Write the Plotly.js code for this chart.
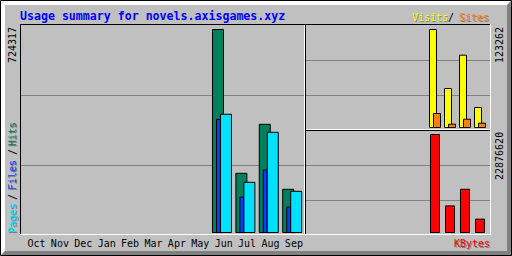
<!DOCTYPE html>
<html><head><meta charset="utf-8">
<script src="https://cdn.plot.ly/plotly-3.0.1.min.js"></script>
<style>html,body{margin:0;padding:0;background:#c0c0c0;overflow:hidden}</style>
</head><body><div id="chart" style="width:512px;height:256px"></div>
<script>
// ---- data ----
const months = ['Oct','Nov','Dec','Jan','Feb','Mar','Apr','May','Jun','Jul','Aug','Sep'];
const hits   = [0,0,0,0,0,0,0,0,724317,211200,386000,154100];
const files  = [0,0,0,0,0,0,0,0,403000,126700,223000,91000];
const pages  = [0,0,0,0,0,0,0,0,421800,179100,357500,147000];
const visits = [0,0,0,0,0,0,0,0,123262,49050,90940,25160];
const sites  = [0,0,0,0,0,0,0,0,17610,4150,10440,5410];
const kbytes = [0,0,0,0,0,0,0,0,22876620,6210000,10090000,3120000];
const titleText = 'Usage summary for novels.axisgames.xyz';

// ---- helpers ----
const W=512,H=256;
const px=x=>x/W, py=y=>1-y/H;
const DK='#808080', FONT='DejaVu Sans Mono';
const nz=a=>a.map(v=>v===0?null:v);
const maxH=Math.max(...hits), maxV=Math.max(...visits), maxK=Math.max(...kbytes);

function bar(y, color, off, wid, xa, ya){
  return {type:'bar', x:months, y:nz(y), xaxis:xa, yaxis:ya, offset:off, width:wid,
    marker:{color:color, line:{color:'#000', width:1}}, hoverinfo:'skip', showlegend:false};
}
const traces=[
  bar(hits,'#00805c',-0.479,0.47,'x','y'),
  bar(files,'#0040ff',-0.308,0.171,'x','y'),
  bar(pages,'#00e0ff',-0.137,0.47,'x','y'),
  bar(visits,'#ffff00',-0.487,0.467,'x2','y2'),
  bar(sites,'#ff8000',-0.22,0.467,'x2','y2'),
  bar(kbytes,'#ff0000',-0.42,0.6,'x3','y3')
];

// ---- frame shapes ----
const shapes=[];
function hl(y,x0,x1,c,layer){shapes.push({type:'line',xref:'paper',yref:'paper',x0:px(x0),x1:px(x1+1),y0:py(y+0.5),y1:py(y+0.5),line:{color:c,width:1},layer:layer||'above'});}
function vl(x,y0,y1,c,layer){shapes.push({type:'line',xref:'paper',yref:'paper',x0:px(x+0.5),x1:px(x+0.5),y0:py(y0),y1:py(y1+1),line:{color:c,width:1},layer:layer||'above'});}
function poly(pts,c){shapes.push({type:'path',xref:'paper',yref:'paper',path:'M'+pts.map(p=>px(p[0])+','+py(p[1])).join('L')+'Z',fillcolor:c,line:{width:0},layer:'below'});}
poly([[0,0],[512,0],[507,5],[5,5],[5,251],[0,256]],'#ffffff');
poly([[0,256],[512,256],[512,0],[507,5],[507,251],[5,251]],DK);
shapes.push({type:'rect',xref:'paper',yref:'paper',x0:px(0.5),x1:px(511.5),y0:py(0.5),y1:py(255.5),line:{color:'#000',width:1},layer:'above'});
// panels
hl(24,20,490,'#000'); vl(20,24,234,'#000');
hl(234,20,490,'#fff'); vl(490,24,234,'#fff');
vl(304,25,233,'#fff'); vl(305,25,233,'#000');
hl(129,306,489,'#fff'); hl(130,306,489,'#000');
// gridlines
hl(95,21,303,DK,'below'); hl(165,21,303,DK,'below');
hl(60,306,489,DK,'below'); hl(95,306,489,DK,'below');
hl(165,306,489,DK,'below'); hl(200,306,489,DK,'below');

// ---- text ----
const anns=[];
function txt(text,x,y,color,o={}){
  const base={text:text,xref:'paper',yref:'paper',x:px(x),y:py(y),showarrow:false,
    xanchor:o.xa||'left',yanchor:o.ya||'middle',textangle:o.angle||0,borderpad:0,borderwidth:0,
    font:{family:FONT,size:o.size||10,color:color,weight:o.weight||'normal'}};
  if(o.shadow){anns.push(Object.assign({},base,{xshift:1,yshift:-1,font:Object.assign({},base.font,{color:DK})}));}
  anns.push(base);
}
txt(titleText,20,15.5,'#0000ff',{size:11.6,weight:'bold'});
txt('Visits',448,17,'#ffff00',{xa:'right',shadow:true});
txt('/',448,17,'#000000',{});
txt('Sites',459,17,'#ff8000',{shadow:true});
txt('KBytes',490,243.5,'#ff0000',{xa:'right',shadow:true});
txt(String(maxH),12,45,'#000',{xa:'center',angle:-90});
txt(String(maxV),499,45,'#000',{xa:'center',angle:-90});
txt(String(maxK),499,156,'#000',{xa:'center',angle:-90});
txt('Pages',12,218,'#00e0ff',{xa:'center',angle:-90,shadow:true});
txt('/',12,197,'#000',{xa:'center',angle:-90});
txt('Files',12,175,'#0040ff',{xa:'center',angle:-90,shadow:true});
txt('/',12,152,'#000',{xa:'center',angle:-90});
txt('Hits',12,134,'#00805c',{xa:'center',angle:-90,shadow:true});

// ---- axes ----
const sM=maxH/203, sV=maxV/98, sK=maxK/98;
const hidden={showgrid:false,zeroline:false,showline:false,showticklabels:false,ticks:'',fixedrange:true};
const layout={
  width:W,height:H,margin:{l:0,r:0,t:0,b:0,pad:0},
  paper_bgcolor:'#c0c0c0',plot_bgcolor:'rgba(0,0,0,0)',
  barmode:'overlay',showlegend:false,
  xaxis:Object.assign({},hidden,{domain:[px(20),px(304)],type:'category',categoryarray:months,
    range:[-0.705,-0.705+284/23.4],showticklabels:true,tickfont:{family:FONT,size:10,color:'#000'},ticklabelstandoff:2,anchor:'y'}),
  yaxis:Object.assign({},hidden,{domain:[py(234),py(24)],range:[-1.5*sM,208.5*sM],anchor:'x'}),
  xaxis2:Object.assign({},hidden,{domain:[px(305),px(490)],type:'category',categoryarray:months,
    range:[-0.787,-0.787+185/15],anchor:'y2'}),
  yaxis2:Object.assign({},hidden,{domain:[py(129),py(24)],range:[-1.5*sV,103.5*sV],anchor:'x2'}),
  xaxis3:Object.assign({},hidden,{domain:[px(305),px(490)],type:'category',categoryarray:months,
    range:[-0.787,-0.787+185/15],anchor:'y3'}),
  yaxis3:Object.assign({},hidden,{domain:[py(234),py(130)],range:[-1.5*sK,102.5*sK],anchor:'x3'}),
  shapes:shapes,annotations:anns
};
Plotly.newPlot('chart',traces,layout,{staticPlot:true,displayModeBar:false});
</script></body></html>
